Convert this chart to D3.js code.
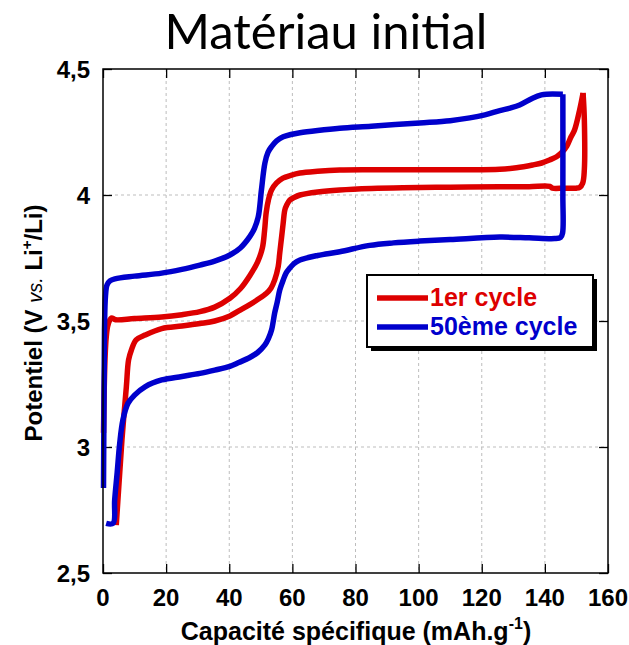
<!DOCTYPE html>
<html>
<head>
<meta charset="utf-8">
<script src="https://cdn.jsdelivr.net/npm/d3@7"></script>
<style>
  html, body { margin: 0; padding: 0; background: #fff; }
  svg { display: block; }
</style>
</head>
<body>
<svg id="chart" width="629" height="645"></svg>
<script>
// ---------- data ----------
const xTicks = [0, 20, 40, 60, 80, 100, 120, 140, 160];
const yTicks = [2.5, 3, 3.5, 4, 4.5];
const yTickLabels = ["2,5", "3", "3,5", "4", "4,5"];
const seriesNames = ["1er cycle", "50ème cycle"];

// 1st cycle – charge
const c1ChargeCap = [0.16,0.32,0.63,1.04,1.58,2.63,4,10,18.6,25,30.7,35.4,40.2,43.5,46.5,49,50.5,51.2,51.7,52.4,53.4,55,57,59.5,62.4,68,75,85,100,115,125.7,131,136.1,139,141.5,143.7,145.6,147,148.3,149.4,151,152.1];
const c1ChargeV   = [3.056,3.187,3.345,3.438,3.484,3.512,3.505,3.51,3.516,3.525,3.537,3.555,3.59,3.628,3.68,3.735,3.79,3.86,3.93,3.98,4.02,4.048,4.067,4.078,4.087,4.094,4.099,4.1,4.1,4.1,4.102,4.108,4.119,4.127,4.139,4.152,4.172,4.195,4.231,4.258,4.337,4.405];
// 1st cycle – discharge
const c1DischargeCap = [152.1,152.5,152.5,152.0,151.0,149.9,146,142.4,141.6,135,125.7,110,95,85,75,68,62.4,60.5,59.2,58.2,57.6,57.1,56.6,56.0,55.5,54.4,53.2,51.8,49,46.5,43,40.2,35.4,30.7,25,18.6,13.3,10.5,9.0,8.1,7.4,6.0,5.0,4.2];
const c1DischargeV   = [4.405,4.3,4.1,4.048,4.03,4.027,4.027,4.027,4.034,4.033,4.033,4.031,4.029,4.026,4.02,4.012,4.0,3.99,3.98,3.96,3.94,3.89,3.835,3.77,3.715,3.663,3.63,3.61,3.585,3.565,3.54,3.52,3.5,3.49,3.48,3.47,3.444,3.425,3.385,3.345,3.239,3.028,2.842,2.69];
// 50th cycle – charge
const c50ChargeCap = [0.16,0.32,0.47,0.79,1.27,2.2,3.8,10,18.6,25,30.7,35.4,40.2,43.5,46.5,48,49.2,50.2,51.3,52.3,53.4,55,57.1,59.5,62.4,68,75,85,100.3,110,116.2,121,125.7,129,132,136.1,138.9,140.5,145.7];
const c50ChargeV   = [2.837,3.187,3.464,3.60,3.643,3.659,3.667,3.678,3.69,3.705,3.722,3.738,3.762,3.79,3.835,3.868,3.914,4.02,4.127,4.17,4.192,4.215,4.231,4.24,4.247,4.256,4.265,4.273,4.286,4.295,4.306,4.318,4.335,4.345,4.357,4.384,4.397,4.40,4.40];
// 50th cycle – discharge
const c50DischargeCap = [145.7,145.7,145.6,145.0,143.1,135,125.7,110,100.3,92,84.5,75,68,62.4,60.5,59.2,58.0,57.1,56.0,55.2,54.4,53.4,52.4,51.3,49,46.5,43,40.2,35.4,30.7,25,18.6,13.3,10.0,7.9,6.3,5.3,4.5,3.7,3.2,1.0];
const c50DischargeV   = [4.40,4.0,3.849,3.832,3.827,3.83,3.833,3.823,3.817,3.81,3.80,3.775,3.76,3.742,3.728,3.71,3.69,3.663,3.623,3.575,3.532,3.464,3.43,3.405,3.375,3.355,3.335,3.32,3.305,3.292,3.28,3.266,3.239,3.206,3.173,3.107,3.015,2.9,2.79,2.697,2.697];

// ---------- layout ----------
const RED = "#dd0000", BLUE = "#0000cc";
const L = 103, R = 608, T = 69, B = 573;
const svg = d3.select("#chart");
const x = d3.scaleLinear().domain([0, 160]).range([L, R]);
const y = d3.scaleLinear().domain([2.5, 4.5]).range([B, T]);
const FONT = "'Liberation Sans', Arial, sans-serif";

// title
svg.append("text").attr("x", 326).attr("y", 49).attr("text-anchor", "middle")
  .attr("font-family", "Lato, 'Open Sans', sans-serif").attr("font-size", 49)
  .attr("fill", "#000").text("Matériau initial");

// grid
const grid = svg.append("g").attr("stroke", "#bdbdbd").attr("stroke-width", 1).attr("stroke-dasharray", "3,3");
xTicks.slice(1, -1).forEach(t => grid.append("line").attr("x1", x(t)).attr("x2", x(t)).attr("y1", T).attr("y2", B));
yTicks.slice(1, -1).forEach(t => grid.append("line").attr("x1", L).attr("x2", R).attr("y1", y(t)).attr("y2", y(t)));

// axes (inner ticks on all four sides)
const TL = 9;
svg.append("g").attr("transform", `translate(0,${B})`)
  .call(d3.axisTop(x).tickValues(xTicks).tickSize(TL).tickFormat(""))
  .call(g => g.select(".domain").remove());
svg.append("g").attr("transform", `translate(0,${T})`)
  .call(d3.axisBottom(x).tickValues(xTicks).tickSize(TL).tickFormat(""))
  .call(g => g.select(".domain").remove());
svg.append("g").attr("transform", `translate(${L},0)`)
  .call(d3.axisRight(y).tickValues(yTicks).tickSize(TL).tickFormat(""))
  .call(g => g.select(".domain").remove());
svg.append("g").attr("transform", `translate(${R},0)`)
  .call(d3.axisLeft(y).tickValues(yTicks).tickSize(TL).tickFormat(""))
  .call(g => g.select(".domain").remove());
svg.selectAll(".tick line").attr("stroke", "#000").attr("stroke-width", 1.3);

// tick labels
svg.append("g").selectAll("text").data(xTicks).join("text")
  .attr("x", d => x(d)).attr("y", 606).attr("text-anchor", "middle")
  .attr("font-family", FONT).attr("font-weight", "bold").attr("font-size", 24)
  .text(d => d);
svg.append("g").selectAll("text").data(yTicks).join("text")
  .attr("x", 90).attr("y", d => y(d) + 8.5).attr("text-anchor", "end")
  .attr("font-family", FONT).attr("font-weight", "bold").attr("font-size", 24)
  .text((d, i) => yTickLabels[i]);

// axis titles
const xt = svg.append("text").attr("x", 356).attr("y", 640).attr("text-anchor", "middle")
  .attr("font-family", FONT).attr("font-weight", "bold").attr("font-size", 25);
xt.append("tspan").text("Capacité spécifique (mAh.g");
xt.append("tspan").attr("font-size", 16).attr("dy", -11).text("-1");
xt.append("tspan").attr("dy", 11).text(")");

const yt = svg.append("text").attr("transform", "translate(42,323) rotate(-90)").attr("text-anchor", "middle")
  .attr("font-family", FONT).attr("font-weight", "bold").attr("font-size", 24);
yt.append("tspan").text("Potentiel (V ");
yt.append("tspan").attr("font-style", "italic").attr("font-weight", "normal").attr("font-size", 20).text("vs.");
yt.append("tspan").text(" Li");
yt.append("tspan").attr("font-size", 15).attr("dy", -10).text("+");
yt.append("tspan").attr("dy", 10).text("/Li)");

// curves
const line = d3.line().x(d => x(d[0])).y(d => y(d[1])).curve(d3.curveCatmullRom.alpha(0.5));
const zip = (a, b) => a.map((v, i) => [v, b[i]]);
const curves = [
  { pts: zip(c1ChargeCap, c1ChargeV), c: RED },
  { pts: zip(c1DischargeCap, c1DischargeV), c: RED },
  { pts: zip(c50ChargeCap, c50ChargeV), c: BLUE },
  { pts: zip(c50DischargeCap, c50DischargeV), c: BLUE }
];
svg.append("g").selectAll("path").data(curves).join("path")
  .attr("d", d => line(d.pts)).attr("fill", "none").attr("stroke", d => d.c)
  .attr("stroke-width", 5.5).attr("stroke-linejoin", "round");

// frame
svg.append("rect").attr("x", L).attr("y", T).attr("width", R - L).attr("height", B - T)
  .attr("fill", "none").attr("stroke", "#000").attr("stroke-width", 1.5);

// legend
const lg = svg.append("g");
lg.append("rect").attr("x", 371).attr("y", 279).attr("width", 226).attr("height", 72).attr("fill", "#000");
lg.append("rect").attr("x", 367).attr("y", 275).attr("width", 226).attr("height", 72)
  .attr("fill", "#fff").attr("stroke", "#000").attr("stroke-width", 2);
[RED, BLUE].forEach((c, i) => {
  const yy = 298 + i * 29;
  lg.append("line").attr("x1", 377).attr("x2", 428).attr("y1", yy).attr("y2", yy)
    .attr("stroke", c).attr("stroke-width", 5.5);
  lg.append("text").attr("x", 430).attr("y", yy + 8).attr("fill", c)
    .attr("font-family", FONT).attr("font-weight", "bold").attr("font-size", 25)
    .text(seriesNames[i]);
});
</script>
</body>
</html>
